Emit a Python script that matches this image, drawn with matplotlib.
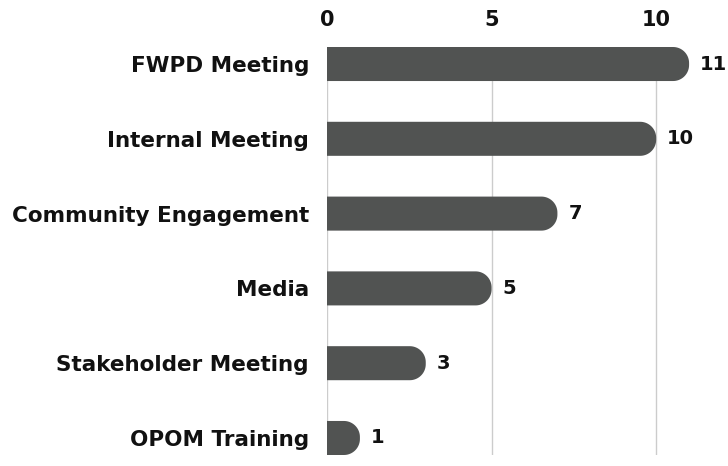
import matplotlib.pyplot as plt
import numpy as np
from matplotlib.path import Path
from matplotlib.patches import PathPatch

categories = ['FWPD Meeting', 'Internal Meeting', 'Community Engagement',
              'Media', 'Stakeholder Meeting', 'OPOM Training']
counts = [11, 10, 7, 5, 3, 1]
xticks = [0, 5, 10]

plt.rcParams['font.family'] = ['DejaVu Sans']

W, H = 7.28, 4.66
fig = plt.figure(figsize=(W, H), dpi=100)
# axes box in pixels: x 327..722, y 47..455 (from top)
L, R, T, B = 327, 722, 47, 455
ax = fig.add_axes([L / 728, 1 - B / 466, (R - L) / 728, (B - T) / 466])

bh = 0.455
xmax = 12.0
ax.set_xlim(0, xmax)
ax.set_ylim(len(categories) - 1 + bh / 2, -bh / 2)

# pixel -> data conversion so the rounded end is round on screen
px_x = xmax / (R - L)
px_y = (len(categories) - 1 + bh) / (B - T)
col = '#515352'

for i, v in enumerate(counts):
    r_px = 16.0
    ry = min(bh / 2, r_px * px_y)
    rx = ry / px_y * px_x
    x0, x1 = 0, v
    y0, y1 = i - bh / 2, i + bh / 2
    th = np.linspace(0, np.pi / 2, 20)
    pts = [(x0, y0)]
    cx, cy = x1 - rx, y0 + ry
    pts += [(cx + rx * np.sin(t), cy - ry * np.cos(t)) for t in th]
    cy2 = y1 - ry
    pts += [(cx + rx * np.cos(t), cy2 + ry * np.sin(t)) for t in th]
    pts += [(x0, y1), (x0, y0)]
    ax.add_patch(PathPatch(Path(pts, closed=True), facecolor=col, edgecolor='none', zorder=3))
    ax.text(v + 11 * px_x, i, str(v), va='center', ha='left', fontsize=14,
            fontweight='bold', color='#111111')

ax.set_yticks(range(len(categories)))
ax.set_yticklabels(categories, fontsize=15.5, fontweight='bold', color='#111111')
ax.set_xticks(xticks)
ax.set_xticklabels([str(t) for t in xticks], fontsize=15, fontweight='bold', color='#111111')
ax.xaxis.tick_top()
ax.tick_params(axis='both', length=0)
ax.tick_params(axis='y', pad=13)
ax.tick_params(axis='x', pad=12)
ax.grid(axis='x', color='#cccccc', linewidth=1, zorder=0)
ax.set_axisbelow(True)
for s in ax.spines.values():
    s.set_visible(False)

fig.savefig('out.png', dpi=100)
